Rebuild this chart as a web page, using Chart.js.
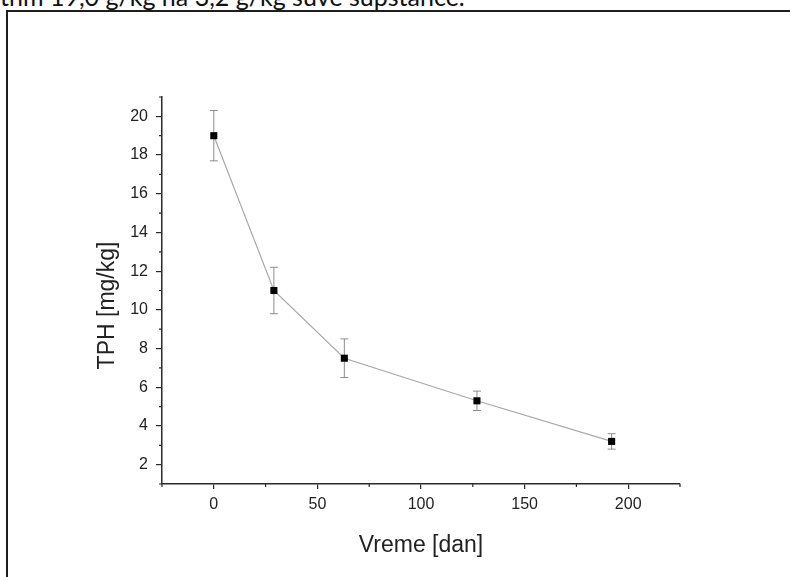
<!DOCTYPE html>
<html><head><meta charset="utf-8">
<script src="https://cdn.jsdelivr.net/npm/chart.js@4.4.1/dist/chart.umd.min.js"></script>
<style>
html,body{margin:0;padding:0;background:#fff;width:790px;height:577px;overflow:hidden;position:relative;}
#cap{position:absolute;left:0;top:-16px;font:25px Lato,"Open Sans",sans-serif;line-height:25px;color:#111;white-space:nowrap;}
#frame{position:absolute;left:6px;top:10px;width:1000px;height:1000px;border:2px solid #1e1e1e;box-sizing:border-box;}
canvas{position:absolute;left:0;top:0;}
</style></head><body>
<div id="cap">thm 19,0 g/kg na 3,2 g/kg suve supstance.</div>
<div id="frame"></div>
<canvas id="c" width="790" height="577"></canvas>
<script>
const days = [0, 29, 63, 127, 192];
const tph = [19.0, 11.0, 7.5, 5.3, 3.2];
const tphErr = [1.3, 1.2, 1.0, 0.5, 0.4];
const xTicks = [0, 50, 100, 150, 200];
const yTicks = [2, 4, 6, 8, 10, 12, 14, 16, 18, 20];
const xMinor = [-25, 25, 75, 125, 175, 225];
const yMinor = [1, 3, 5, 7, 9, 11, 13, 15, 17, 19, 21];
const xTitle = 'Vreme [dan]';
const yTitle = 'TPH [mg/kg]';

const axisColor = '#2a2a2a';
const textColor = '#222';
const tickFont = {family: '"Liberation Sans", Arial, sans-serif', size: 16};
const titleFont = {family: '"Liberation Sans", Arial, sans-serif', size: 23};

const errorBars = {
  id: 'errorBars',
  beforeDatasetsDraw(chart) {
    const ctx = chart.ctx, xs = chart.scales.x, ys = chart.scales.y;
    ctx.save();
    ctx.strokeStyle = '#8c8c8c';
    ctx.lineWidth = 1;
    days.forEach((d, i) => {
      const px = xs.getPixelForValue(d);
      const top = ys.getPixelForValue(tph[i] + tphErr[i]);
      const bot = ys.getPixelForValue(tph[i] - tphErr[i]);
      ctx.beginPath();
      ctx.moveTo(px, top); ctx.lineTo(px, bot);
      ctx.moveTo(px - 4, top); ctx.lineTo(px + 4, top);
      ctx.moveTo(px - 4, bot); ctx.lineTo(px + 4, bot);
      ctx.stroke();
    });
    ctx.restore();
  }
};

const axisExtras = {
  id: 'axisExtras',
  afterDraw(chart) {
    const ctx = chart.ctx, xs = chart.scales.x, ys = chart.scales.y, a = chart.chartArea;
    ctx.save();
    ctx.strokeStyle = axisColor;
    ctx.lineWidth = 1.2;
    ctx.beginPath();
    xMinor.forEach(v => { const p = xs.getPixelForValue(v); ctx.moveTo(p, a.bottom); ctx.lineTo(p, a.bottom + 3); });
    yMinor.forEach(v => { const p = ys.getPixelForValue(v); ctx.moveTo(a.left, p); ctx.lineTo(a.left - 3, p); });
    ctx.stroke();
    // y axis title (placed slightly below the axis centre, as in the original)
    ctx.fillStyle = textColor;
    ctx.font = titleFont.size + 'px ' + titleFont.family;
    ctx.textAlign = 'center';
    ctx.textBaseline = 'middle';
    ctx.translate(a.left - 54, (a.top + a.bottom) / 2 + 15);
    ctx.rotate(-Math.PI / 2);
    ctx.fillText(yTitle, 0, 0);
    ctx.restore();
  }
};

new Chart(document.getElementById('c'), {
  type: 'line',
  data: {
    datasets: [{
      data: days.map((d, i) => ({x: d, y: tph[i]})),
      borderColor: '#a8a8a8',
      borderWidth: 1.2,
      pointStyle: 'rect',
      pointRadius: 5,
      pointBackgroundColor: '#000',
      pointBorderColor: '#000',
      pointBorderWidth: 0,
      tension: 0,
      fill: false
    }]
  },
  options: {
    responsive: false,
    animation: false,
    events: [],
    layout: {padding: {left: 0, top: 97, right: 110, bottom: 0}},
    plugins: {legend: {display: false}, tooltip: {enabled: false}},
    scales: {
      x: {
        type: 'linear', min: -25, max: 225,
        afterBuildTicks: s => { s.ticks = xTicks.map(v => ({value: v})); },
        afterFit: s => { s.height = 93; },
        grid: {display: true, drawOnChartArea: false, drawTicks: true, tickLength: 5, color: axisColor, lineWidth: 1.2},
        border: {display: true, color: axisColor, width: 1.5},
        ticks: {color: textColor, font: tickFont, padding: 6, maxRotation: 0},
        title: {display: true, text: xTitle, color: textColor, font: titleFont, padding: {top: 0, bottom: 18}}
      },
      y: {
        type: 'linear', min: 1, max: 21,
        afterBuildTicks: s => { s.ticks = yTicks.map(v => ({value: v})); },
        afterFit: s => { s.width = 162; },
        grid: {display: true, drawOnChartArea: false, drawTicks: true, tickLength: 6, color: axisColor, lineWidth: 1.2},
        border: {display: true, color: axisColor, width: 1.5},
        ticks: {color: textColor, font: tickFont, padding: 8},
        title: {display: false, text: yTitle}
      }
    }
  },
  plugins: [errorBars, axisExtras]
});
</script>
</body></html>
